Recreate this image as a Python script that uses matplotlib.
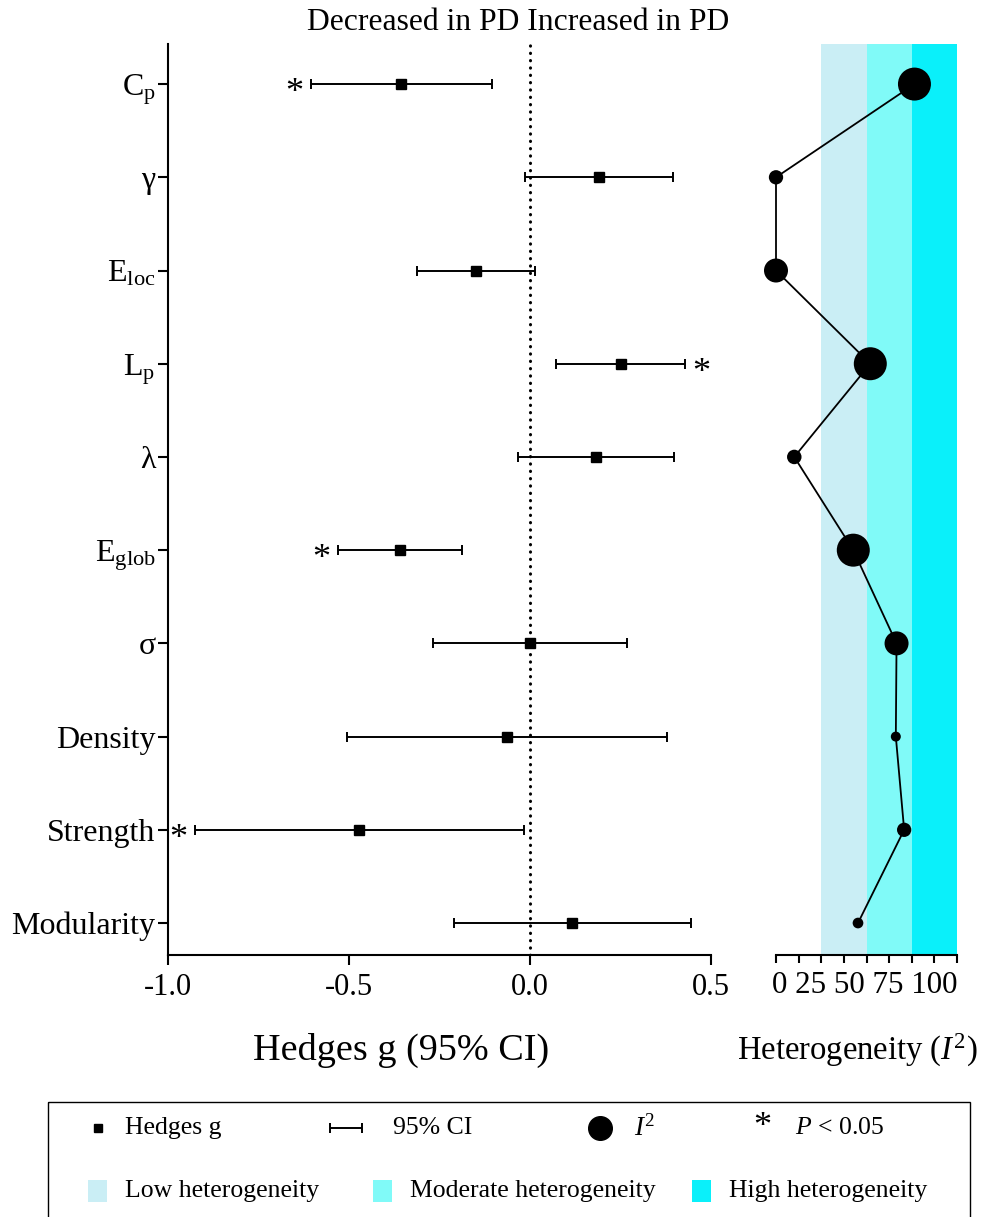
import matplotlib
matplotlib.use("Agg")
import matplotlib.pyplot as plt
from matplotlib.patches import Rectangle
import numpy as np

plt.rcParams['font.family'] = ['Liberation Serif', 'DejaVu Serif']
plt.rcParams['mathtext.fontset'] = 'custom'
plt.rcParams['mathtext.rm'] = 'Liberation Serif'
plt.rcParams['mathtext.it'] = 'Liberation Serif:italic'
plt.rcParams['mathtext.bf'] = 'Liberation Serif:bold'

# ---------------- data ----------------
metrics = [r"C$_{\mathrm{p}}$", "γ", r"E$_{\mathrm{loc}}$", r"L$_{\mathrm{p}}$", "λ",
           r"E$_{\mathrm{glob}}$", "σ", "Density", "Strength", "Modularity"]
hedges_g = [-0.355, 0.190, -0.150, 0.250, 0.182, -0.358, 0.000, -0.063, -0.471, 0.116]
ci_low   = [-0.606, -0.013, -0.313, 0.073, -0.032, -0.530, -0.267, -0.506, -0.926, -0.211]
ci_high  = [-0.104, 0.395, 0.013, 0.427, 0.399, -0.188, 0.267, 0.378, -0.017, 0.444]
significant = [True, False, False, True, False, True, False, False, True, False]
i2_values = [76.5, 0.0, 0.0, 52.1, 10.1, 42.7, 66.6, 66.2, 70.8, 45.3]
i2_weight = [33, 14.3, 24, 33, 14.5, 33, 24, 10, 14.3, 10.7]   # circle diameter (px) encoding
x_ticks = [-1.0, -0.5, 0.0, 0.5]
x_ticklabels = ["-1.0", "-0.5", "0.0", "0.5"]
band_edges = [25, 50, 75, 100]
band_names = ["Low heterogeneity", "Moderate heterogeneity", "High heterogeneity"]
band_colors = ["#CAEEF5", "#80FAF8", "#0AF0FA"]

# ---------------- layout ----------------
W, H = 988, 1217
fig = plt.figure(figsize=(W / 100, H / 100), dpi=100)

def px_box(l, t, r, b):
    return [l / W, 1 - b / H, (r - l) / W, (b - t) / H]

n = len(metrics)
y = np.arange(n)
ylim = (n - 1 + 0.343, -0.43)

# ---- left: forest plot ----
ax = fig.add_axes(px_box(168, 44, 711, 955))
ax.set_xlim(-1.0, 0.5)
ax.set_ylim(*ylim)
for s in ["top", "right"]:
    ax.spines[s].set_visible(False)
for s in ["left", "bottom"]:
    ax.spines[s].set_linewidth(1.5)
ax.axvline(0, color="black", lw=2.2, linestyle=(0, (0.1, 2.3)),
           dash_capstyle="round", zorder=1)
g = np.array(hedges_g)
lo = np.array(ci_low)
hi = np.array(ci_high)
ax.errorbar(g, y, xerr=[g - lo, hi - g], fmt="s", color="black", ms=7.5,
            capsize=3.8, elinewidth=1.4, capthick=1.4, zorder=3)
for yi, gi, l, h, sg in zip(y, g, lo, hi, significant):
    if sg:
        if gi < 0:
            ax.annotate("*", xy=(l, yi), xytext=(-12, -13), textcoords="offset points",
                        ha="center", va="baseline", fontsize=26, annotation_clip=False)
        else:
            ax.annotate("*", xy=(h, yi), xytext=(12, -13), textcoords="offset points",
                        ha="center", va="baseline", fontsize=26, annotation_clip=False)
ax.set_yticks(y)
ax.set_yticklabels(metrics, fontsize=23)
ax.set_xticks(x_ticks)
ax.set_xticklabels(x_ticklabels, fontsize=22)
ax.tick_params(axis="both", direction="out", length=7, width=1.5, pad=2)
ax.tick_params(axis="x", pad=6)

# ---- right: heterogeneity ----
ax2 = fig.add_axes(px_box(776, 44, 957, 955))
ax2.set_xlim(0, 100)
ax2.set_ylim(*ylim)
for s in ["top", "right", "left"]:
    ax2.spines[s].set_visible(False)
ax2.spines["bottom"].set_linewidth(1.5)
for i in range(3):
    ax2.axvspan(band_edges[i], band_edges[i + 1], color=band_colors[i], lw=0, zorder=0)
ax2.plot(i2_values, y, color="black", lw=1.3, zorder=3, clip_on=False)
ax2.scatter(i2_values, y, s=(np.array(i2_weight) * 0.72) ** 2, color="black",
            zorder=4, clip_on=False, linewidths=0)
ax2.set_yticks([])
ax2.set_xticks(np.arange(0, 100.1, 12.5))
ax2.set_xticklabels([])
ax2.tick_params(axis="x", direction="out", length=6, width=1.5)
ax2.text(1.0, -0.033, "0 25 50 75 100", transform=ax2.transAxes, ha="right",
         va="center", fontsize=22.3)

# ---- titles / axis labels ----
fig.text(518 / W, 1 - 22 / H, "Decreased in PD Increased in PD", ha="center",
         va="center", fontsize=22.8)
fig.text(401 / W, 1 - 1050 / H, "Hedges g (95% CI)", ha="center", va="center",
         fontsize=27.5)
fig.text(857 / W, 1 - 1050 / H, r"Heterogeneity ($I^{2}$)", ha="center",
         va="center", fontsize=23.5)

# ---- legend (drawn in pixel space) ----
lg = fig.add_axes([0, 0, 1, 1], zorder=-1)
lg.set_xlim(0, W)
lg.set_ylim(H, 0)
lg.axis("off")
lg.add_patch(Rectangle((48, 1102), 922, 140, fill=False, edgecolor="black", lw=1.0))
r1, r2 = 1128, 1191
fs = 18.5
lg.plot([98], [r1], "s", color="black", ms=6)
lg.text(125, r1, "Hedges g", va="center", ha="left", fontsize=fs)
lg.errorbar([346], [r1], xerr=[[16], [16]], fmt="none", ecolor="black",
            elinewidth=1.4, capsize=3.5, capthick=1.4)
lg.text(393, r1, "95% CI", va="center", ha="left", fontsize=fs)
lg.plot([600], [r1], "o", color="black", ms=17)
lg.text(634, r1, r"$I^{2}$", va="center", ha="left", fontsize=fs + 1)
lg.annotate("*", xy=(762, r1), xytext=(0, -6), textcoords="offset points",
            ha="center", va="baseline", fontsize=26)
lg.text(795, r1, r"$P$ < 0.05", va="center", ha="left", fontsize=fs)
for px, name, col in zip([88, 373, 692], band_names, band_colors):
    lg.add_patch(Rectangle((px, r2 - 11), 19, 22, color=col, lw=0))
    lg.text(px + 37, r2, name, va="center", ha="left", fontsize=fs)

fig.savefig("out.png", dpi=100)
